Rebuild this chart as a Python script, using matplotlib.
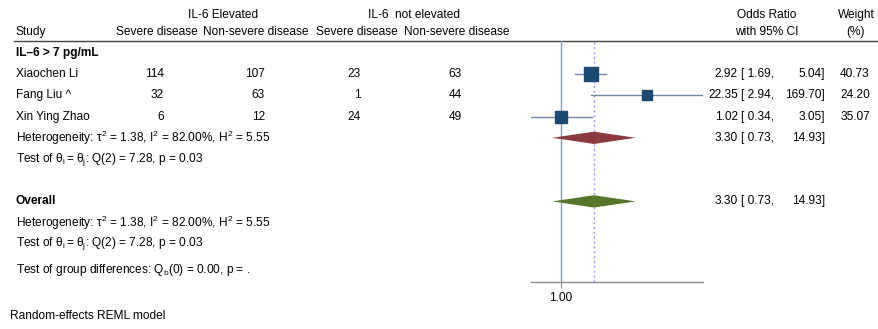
import numpy as np
import matplotlib.pyplot as plt

plt.rcParams['font.family'] = ['Liberation Sans', 'DejaVu Sans']
plt.rcParams['font.size'] = 8.6

# study data
studies = ['Xiaochen Li', 'Fang Liu ^', 'Xin Ying Zhao']
elev_severe = [114, 32, 6]
elev_nonsevere = [107, 63, 12]
notel_severe = [23, 1, 24]
notel_nonsevere = [63, 44, 49]
or_est = [2.92, 22.35, 1.02]
ci_lo = [1.69, 2.94, 0.34]
ci_hi = [5.04, 169.70, 3.05]
weights = [40.73, 24.20, 35.07]

# pooled estimates (subgroup and overall are identical)
pooled_est, pooled_lo, pooled_hi = 3.30, 0.73, 14.93

het_txt = r'Heterogeneity: $\mathregular{\tau^2}$ = 1.38, $\mathregular{I^2}$ = 82.00%, $\mathregular{H^2}$ = 5.55'
test_txt = r'Test of $\mathregular{\theta_i = \theta_j}$: Q(2) = 7.28, p = 0.03'
group_txt = r'Test of group differences: $\mathregular{Q_b}$(0) = 0.00, p = .'

fig = plt.figure(figsize=(8.79, 3.29), dpi=100)

# text layer in pixel coordinates
tx = fig.add_axes([0, 0, 1, 1])
tx.set_xlim(0, 879)
tx.set_ylim(329, 0)
tx.axis('off')

def row_y(r):
    return 53 + 21.2 * r

# forest panel: spans the CI range on a log scale
x0, x1, y_top, y_bot = 531, 703, 41, 282
ax = fig.add_axes([x0 / 879, 1 - y_bot / 329, (x1 - x0) / 879, (y_bot - y_top) / 329])
ax.set_xscale('log')
ax.set_xlim(min(ci_lo), max(ci_hi))
ax.set_ylim((y_bot - 53) / 21.2, (y_top - 53) / 21.2)
for s in ['top', 'left', 'right']:
    ax.spines[s].set_visible(False)
ax.spines['bottom'].set_color('#8c8c8c')
ax.spines['bottom'].set_linewidth(1.0)
ax.set_yticks([])
ax.set_xticks([1])
ax.set_xticklabels(['1.00'])
ax.xaxis.set_minor_locator(plt.NullLocator())
ax.tick_params(axis='x', length=4, color='#8c8c8c', labelsize=8.6, pad=3)
ax.patch.set_alpha(0)

ax.axvline(1, color='#8a9bb0', lw=1.0, zorder=1)
ax.axvline(pooled_est, color='#9999ff', lw=1.0, ls=(0, (1.5, 2)), zorder=1)

for i in range(len(studies)):
    r = i + 1
    ax.plot([ci_lo[i], ci_hi[i]], [r, r], color='#6b87a3', lw=1.0, zorder=2)
    side_px = 2.04 * np.sqrt(weights[i])
    ax.plot(or_est[i], r, marker='s', ms=side_px * 0.72, color='#1a4a72',
            mec='#1a4a72', zorder=3)

def diamond(r, color):
    h = 0.29
    xs = [pooled_lo, pooled_est, pooled_hi, pooled_est]
    ys = [r, r - h, r, r + h]
    ax.fill(xs, ys, color=color, lw=0, zorder=3)

diamond(4, '#8b3a3e')
diamond(7, '#55752a')

# header
tx.text(223, 15, 'IL-6 Elevated', ha='center', va='center')
tx.text(414, 15, 'IL-6  not elevated', ha='center', va='center')
tx.text(16, 32, 'Study', ha='left', va='center')
col_hdr = [(157, 'Severe disease'), (256, 'Non-severe disease'),
           (357, 'Severe disease'), (457, 'Non-severe disease')]
for cx, t in col_hdr:
    tx.text(cx, 32, t, ha='center', va='center')
tx.text(767, 15, 'Odds Ratio', ha='center', va='center')
tx.text(767, 32, 'with 95% CI', ha='center', va='center')
tx.text(856, 15, 'Weight', ha='center', va='center')
tx.text(856, 32, '(%)', ha='center', va='center')
tx.plot([14, 879], [40.5, 40.5], color='#444444', lw=1.0)

tx.text(16, row_y(0), 'IL\u20136 > 7 pg/mL', ha='left', va='center', fontweight='bold')

cols = [(164, elev_severe), (265, elev_nonsevere), (361, notel_severe), (462, notel_nonsevere)]
for i, name in enumerate(studies):
    y = row_y(i + 1)
    tx.text(16, y, name, ha='left', va='center')
    for cx, vals in cols:
        tx.text(cx, y, str(vals[i]), ha='right', va='center')

def ci_text(y, est, lo, hi, w=None):
    tx.text(738, y, f'{est:.2f}', ha='right', va='center')
    tx.text(741, y, f'[ {lo:.2f},', ha='left', va='center')
    tx.text(825, y, f'{hi:.2f}]', ha='right', va='center')
    if w is not None:
        tx.text(870, y, f'{w:.2f}', ha='right', va='center')

for i in range(len(studies)):
    ci_text(row_y(i + 1), or_est[i], ci_lo[i], ci_hi[i], weights[i])

tx.text(16, row_y(4), het_txt, ha='left', va='center')
ci_text(row_y(4), pooled_est, pooled_lo, pooled_hi)
tx.text(16, row_y(5), test_txt, ha='left', va='center')

tx.text(16, row_y(7), 'Overall', ha='left', va='center', fontweight='bold')
ci_text(row_y(7), pooled_est, pooled_lo, pooled_hi)
tx.text(16, row_y(8), het_txt, ha='left', va='center')
tx.text(16, row_y(9), test_txt, ha='left', va='center')
tx.text(16, 270, group_txt, ha='left', va='center')

tx.text(10, 316, 'Random-effects REML model', ha='left', va='center')

fig.savefig('out.png', dpi=100)
